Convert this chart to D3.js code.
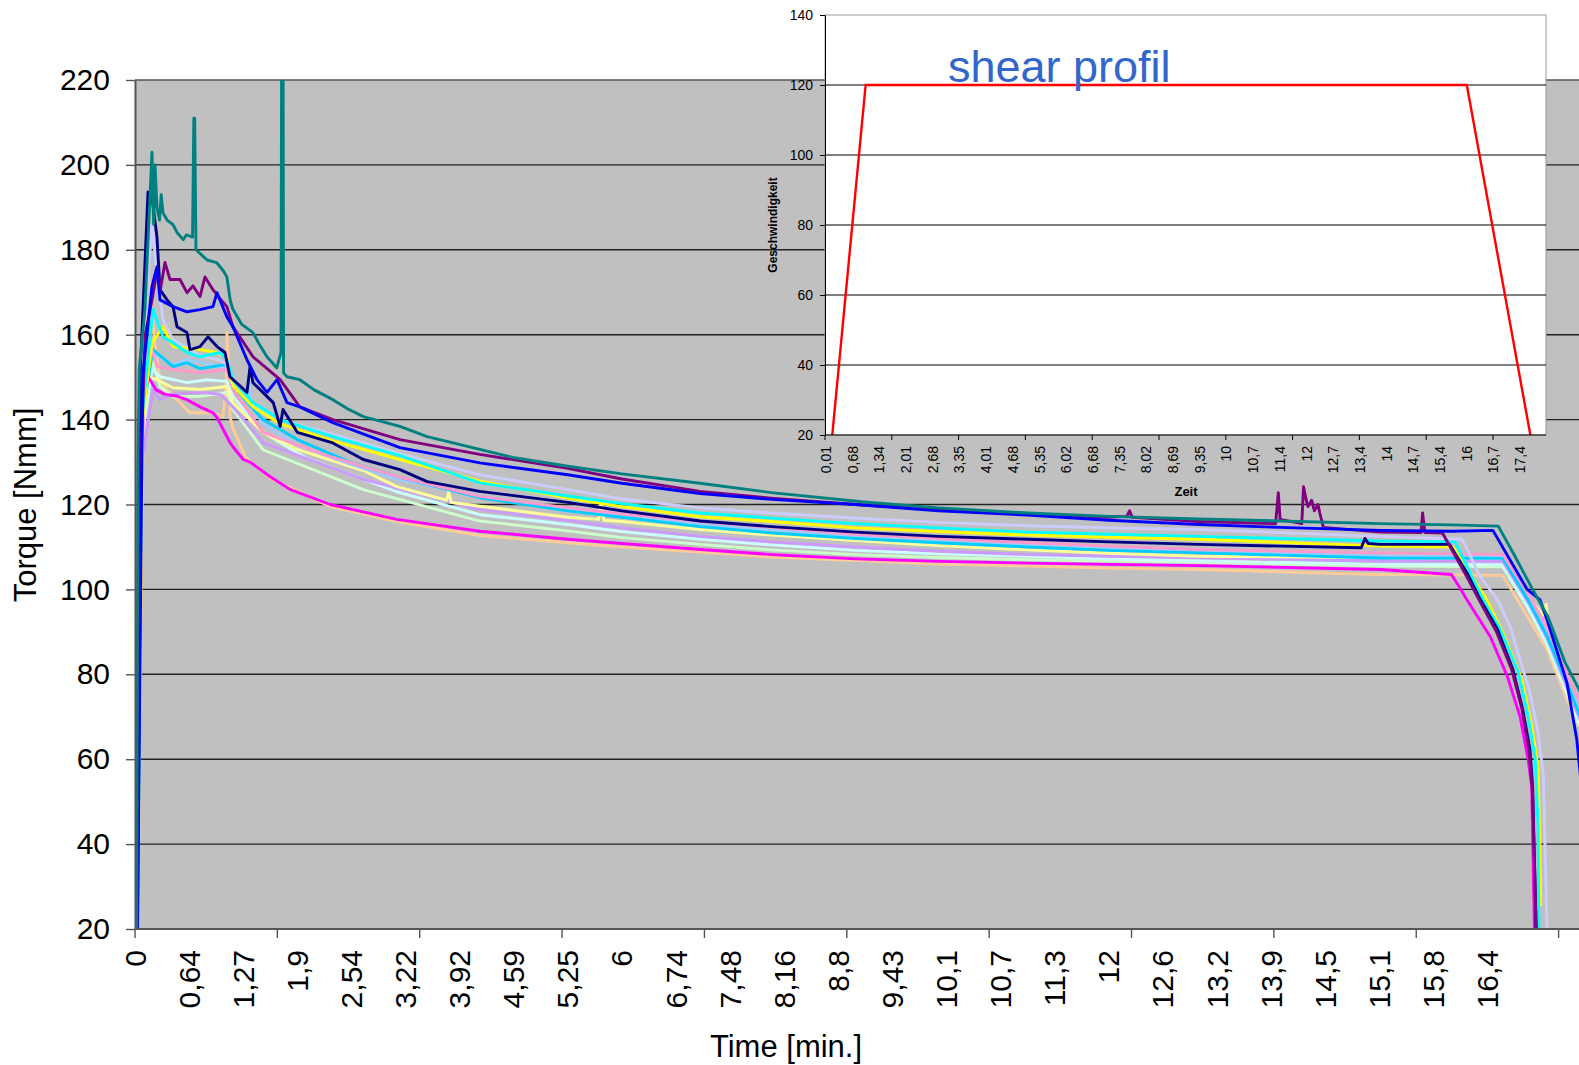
<!DOCTYPE html>
<html>
<head>
<meta charset="utf-8">
<title>Torque</title>
<script src="https://cdn.jsdelivr.net/npm/d3@7"></script>
<style>
body { margin:0; background:#fff; }
text { font-family: "Liberation Sans", Arial, sans-serif; }
</style>
</head>
<body>
<svg id="chart" width="1579" height="1065"></svg>
<script>
// ---- main chart data ----
var timeLabels = ["0","0,64","1,27","1,9","2,54","3,22","3,92","4,59","5,25","6","6,74","7,48","8,16",
  "8,8","9,43","10,1","10,7","11,3","12","12,6","13,2","13,9","14,5","15,1","15,8","16,4"];
var torqueTicks = [20,40,60,80,100,120,140,160,180,200,220];

var tealData = [[0.02,20],[0.035,130],[0.05,152],[0.09,160],[0.118,166],[0.16,185],[0.201,203],[0.22,186],[0.237,200],[0.26,190],[0.29,187],[0.31,193],[0.331,188.7],[0.38,187],[0.45,185.9],[0.5,184],[0.57,182.4],[0.61,183.5],[0.68,183],[0.695,211],[0.705,211],[0.72,180],[0.85,177.6],[0.96,177],[1.04,175],[1.08,173.6],[1.12,168],[1.15,166],[1.25,162.5],[1.384,160.5],[1.45,158],[1.547,154.8],[1.66,152.2],[1.71,155.8],[1.718,235],[1.734,235],[1.74,151],[1.78,150.1],[1.93,149.4],[2.1,147],[2.32,144.7],[2.5,142.5],[2.69,140.7],[3.15,138.4],[3.5,136],[4.17,133],[4.6,131],[5.25,129],[6,127.2],[7.07,125],[8,122.8],[9.1,120.6],[10,119.2],[11,118],[12,117.2],[13,116.6],[14.2,116],[15.11,115.5],[16,115.2],[16.52,114.9],[16.7,108],[16.9,100],[17.07,93.6],[17.26,82.8],[17.45,75]];
var purpleData = [[0.03,20],[0.07,130],[0.12,160],[0.2,168],[0.26,175],[0.3,170.6],[0.355,177],[0.414,173],[0.532,173],[0.615,169.9],[0.685,171.5],[0.767,169],[0.825,173.6],[0.918,170.6],[1.0,168.5],[1.08,166.6],[1.15,161.9],[1.384,154.8],[1.7,149.4],[1.93,143],[2.32,140],[3.15,135.3],[4.17,131.8],[5.25,128.5],[6,126],[7.07,123.1],[8,121.5],[9,120],[10,118.8],[11,117.8],[12,117],[12.2,117.2],[12.23,118.5],[12.26,117],[13,116],[13.95,115.5],[13.98,122.8],[14.0,116.5],[14.24,115.5],[14.26,124.2],[14.29,121],[14.31,119.5],[14.35,121],[14.38,118.5],[14.42,120],[14.44,118],[14.48,114.6],[15.11,113.5],[15.64,113.4],[15.66,118],[15.69,113.4],[15.9,113.3],[16.0,109.5],[16.17,103],[16.32,97],[16.5,90],[16.67,81],[16.78,72],[16.86,62],[16.9,52],[16.94,20]];
var blueData = [[0.03,20],[0.09,150],[0.2,171.3],[0.26,176],[0.296,168.2],[0.45,166.6],[0.615,165.4],[0.767,165.9],[0.918,166.6],[0.965,169.9],[1.08,164.2],[1.15,161.9],[1.314,154.1],[1.43,149.4],[1.547,146.4],[1.664,149.4],[1.78,144],[1.93,143],[2.32,139.3],[3.15,133.4],[4.17,129.8],[5.25,127],[6,125],[7.07,122.6],[8,121.2],[9,120],[10,118.5],[11,117.5],[12,116.3],[13,115.3],[14,114.6],[15.11,113.9],[16,113.7],[16.46,113.9],[16.84,100],[16.98,97.6],[17.06,92.9],[17.28,78.1],[17.39,64.7],[17.45,52]];
var navyData = [[0.02,20],[0.06,150],[0.154,193.6],[0.2,192.5],[0.26,183],[0.296,170.6],[0.379,168.2],[0.45,166.6],[0.497,161.9],[0.615,160.5],[0.65,156.5],[0.767,157.2],[0.86,159.5],[0.965,157.2],[1.058,155.8],[1.116,150.1],[1.314,146.4],[1.35,152.5],[1.384,148.7],[1.62,144],[1.7,138.4],[1.734,142.4],[1.9,137],[2.32,134.5],[2.69,130.6],[3.15,128.2],[3.5,125.4],[4.17,123.1],[5.25,120.5],[6,118.5],[7.07,116.1],[8,114.8],[9,113.5],[10,112.5],[11,111.8],[12,111.2],[13,110.6],[14.9,109.8],[14.94,112],[14.98,110.8],[15.11,110.6],[15.98,110.6],[16.17,104],[16.32,97.6],[16.51,90.6],[16.68,81.2],[16.79,71.8],[16.87,62.4],[16.9,53.6],[16.94,20]];
var cyanData = [[0.03,20],[0.08,140],[0.213,166],[0.331,159.5],[0.45,158.1],[0.615,155.8],[0.767,154.8],[1.0,155.8],[1.08,154.1],[1.15,149.4],[1.384,144],[1.7,140],[2.32,136],[3.15,131.5],[4.17,125.1],[5.25,122],[6,120.2],[7.07,118],[8,116.8],[9,115.5],[10,114.5],[11,113.5],[12,113],[13,112.5],[15.11,111.4],[16.04,111.2],[16.35,97.6],[16.54,90.6],[16.74,80.6],[16.85,70.2],[16.93,60],[16.96,45],[16.97,20]];
var yellowData = [[0.03,20],[0.09,140],[0.2,158],[0.331,161.9],[0.45,157.2],[0.767,156.5],[0.965,155.8],[1.08,154.5],[1.15,148],[1.384,143],[1.7,139],[2.32,135],[3.15,130.6],[4.17,125.5],[5.25,121.5],[6,119.5],[7.07,117.1],[8,116],[9,114.5],[10,113.6],[11,112.8],[12,112.3],[13,111.8],[15.11,110.2],[16.02,110],[16.39,97.6],[16.57,89.8],[16.78,78.8],[16.89,67.8],[16.96,58.4],[16.98,40],[16.99,25.4]];
var periwinkleData = [[0.02,20],[0.07,150],[0.201,186],[0.26,174.6],[0.331,163.5],[0.45,158.8],[0.615,157],[0.767,155],[1.0,154],[1.08,153],[1.15,148],[1.384,143.5],[1.7,140],[2.32,136.5],[3.15,132],[4.17,127],[5.25,123.5],[6,121.3],[7.07,119.2],[8,118],[9,116.8],[10,115.8],[11,115],[12,114.5],[13,114.1],[15.11,112.5],[16.12,111.8],[16.32,103],[16.51,97.6],[16.65,91.3],[16.76,83.5],[16.87,75.8],[16.96,66.4],[17.02,56],[17.06,20]];
var skyBlueData = [[0.03,20],[0.08,140],[0.213,156.5],[0.45,152.5],[0.615,153.4],[0.767,152],[1.08,153],[1.15,147.8],[1.5,140],[1.9,135.3],[2.52,130],[3.11,126.6],[4.17,121.6],[5.25,118.5],[6,117],[7.07,114.8],[8,113.3],[9,112],[10,111],[11,110],[12,109.2],[13,108.6],[15.11,107.4],[16.57,107.3],[16.85,97.5],[17.06,89],[17.26,79],[17.45,69]];
var paleBlueData = [[0.03,20],[0.08,140],[0.19,155.8],[0.45,153],[0.615,154.1],[0.9,153],[1.08,152],[1.15,147],[1.32,146],[1.33,151],[1.35,144],[1.5,139],[1.9,134],[2.52,129.5],[3.11,126],[4.17,122],[5.25,119],[6,117.5],[7.07,115.3],[8,114],[9,112.5],[10,111.3],[11,110.5],[12,109.8],[13,109.2],[15.11,107.8],[16.57,107.8],[16.85,98],[17.06,90],[17.26,80],[17.45,71]];
var roseData = [[0.02,20],[0.07,140],[0.154,159.5],[0.26,152.5],[0.45,151.8],[0.767,151.1],[1.08,151.8],[1.15,147.1],[1.5,137],[2.29,131.3],[3.11,126.6],[4.17,121.9],[5.25,119.2],[6,117.8],[7.07,116],[8,114.6],[9,113],[10,112],[11,111],[12,110.2],[13,109.4],[15.11,108.6],[16.57,108.2],[16.85,99],[17.06,91],[17.26,81],[17.45,72]];
var lightCyanData = [[0.03,20],[0.08,135],[0.201,152],[0.296,150.1],[0.615,148.7],[0.848,149.4],[1.08,149],[1.15,145.4],[1.5,137],[2.0,131],[3.11,123],[4.17,117.6],[5.25,115.3],[6,113.6],[7.07,111.8],[8,110.5],[9,109.2],[10,108.4],[11,107.8],[12,107.2],[13,106.7],[15.11,105.9],[16.57,105.8],[16.85,96],[17.06,87.5],[17.26,77],[17.45,67]];
var lightYellowData = [[0.03,20],[0.08,135],[0.154,150],[0.26,149.4],[0.45,147.5],[0.767,147.1],[1.08,147.8],[1.15,144],[1.5,137],[1.9,133],[2.69,128],[3.11,124.2],[3.75,121],[3.78,123],[3.81,120.5],[4.17,119.6],[5.25,117],[5.68,116.5],[5.71,120.8],[5.75,116.3],[6,116],[7.07,114.1],[8,112.8],[9,111.5],[10,110.3],[11,109.3],[12,108.5],[13,107.8],[15.11,107.5],[16.57,107.4],[16.85,98],[17.02,94],[17.05,96.5],[17.1,89],[17.26,80],[17.45,70.5]];
var lavenderData = [[0.03,20],[0.08,130],[0.213,147],[0.296,144.7],[0.45,146],[0.767,146.4],[1.0,146],[1.15,143],[1.5,134.6],[2.69,125.9],[4.17,118.8],[5.25,116.2],[6,114.5],[7.07,112.5],[8,111.2],[9,110],[10,109],[11,108.2],[12,107.8],[13,107.5],[15.11,106.7],[16.57,106.6],[16.85,97],[17.06,88.5],[17.26,78],[17.45,68]];
var lightGreenData = [[0.03,20],[0.08,140],[0.201,154],[0.296,147.8],[0.45,145.4],[0.767,145.5],[1.08,146.4],[1.15,142.4],[1.5,132.9],[2.69,123.5],[4.17,116.1],[5.25,113.8],[6,112.2],[7.07,110.6],[8,109.3],[9,108.2],[10,107.5],[11,107],[12,106.7],[13,106.4],[15.11,105.5],[16.57,105.3],[16.85,95.5],[17.06,87],[17.26,76.5],[17.45,66.5]];
var magentaData = [[0.02,20],[0.05,100],[0.1,145],[0.16,150],[0.25,147],[0.35,146],[0.5,145.5],[0.615,144.7],[0.767,143],[0.918,141.6],[0.965,140.5],[1.116,134.6],[1.15,133.6],[1.27,130.6],[1.35,130],[1.58,126.6],[1.82,123.5],[2.29,120],[3.11,116.5],[4.17,113.7],[5.25,111.8],[6,110.8],[7.07,109.4],[8,108.2],[9,107.2],[10,106.6],[11,106.2],[12,105.9],[13,105.6],[15.11,104.7],[16.0,103.5],[16.09,100.5],[16.17,97.6],[16.43,88.9],[16.62,79.5],[16.76,70.1],[16.85,60],[16.89,53.6],[16.92,20]];
var tanData = [[0.02,20],[0.04,60],[0.1,140],[0.142,175.8],[0.177,171.3],[0.237,157.2],[0.296,149.4],[0.379,147.1],[0.532,144],[0.65,141.6],[0.918,141.6],[1.035,140.7],[1.07,148],[1.08,160.5],[1.095,155],[1.116,140.7],[1.15,138],[1.3,131],[1.6,126],[2.29,119.5],[3.11,116],[4.17,112.7],[5.25,111],[6,110],[7.07,108.8],[8,107.6],[9,106.8],[10,106],[11,105.5],[12,105],[13,104.7],[15.11,103.5],[16.57,103.3],[16.73,97.6],[17.06,85.9],[17.28,74.1],[17.41,67.8]];

// ---- inset (shear profile) data ----
var profileLabels = ["0,01","0,68","1,34","2,01","2,68","3,35","4,01","4,68","5,35","6,02","6,68","7,35","8,02",
  "8,69","9,35","10","10,7","11,4","12","12,7","13,4","14","14,7","15,4","16","16,7","17,4"];
var speedTicks = [20,40,60,80,100,120,140];
var profileData = [[0,0],[1,120],[16,120],[18,0]];

var seriesList = [
  {color:"#FFCC99", data:tanData},
  {color:"#CCFFCC", data:lightGreenData},
  {color:"#CCFFFF", data:lightCyanData},
  {color:"#CC99FF", data:lavenderData},
  {color:"#FFFF99", data:lightYellowData},
  {color:"#99CCFF", data:paleBlueData},
  {color:"#00CCFF", data:skyBlueData},
  {color:"#FF99CC", data:roseData},
  {color:"#FF00FF", data:magentaData},
  {color:"#CCCCFF", data:periwinkleData},
  {color:"#FFFF00", data:yellowData},
  {color:"#00FFFF", data:cyanData},
  {color:"#000080", data:navyData},
  {color:"#800080", data:purpleData},
  {color:"#0000FF", data:blueData},
  {color:"#008080", data:tealData}
];

var svg = d3.select("#chart");
var num = function(s) { return +s.replace(",", "."); };

// main plot area
var pl = 135, pr = 1600, pt = 80, pb = 929;
var labelStep = 54.1, tickStep = 142.36;

var xi = d3.scaleLinear().domain([0, timeLabels.length - 1]).range([pl, pl + (timeLabels.length - 1) * labelStep]);
var x = d3.scaleLinear().domain(timeLabels.map(num)).range(timeLabels.map(function(d, i) { return xi(i); }));
var y = d3.scaleLinear().domain([20, 220]).range([pb, pt]);

svg.append("rect").attr("x", pl).attr("y", pt).attr("width", pr - pl).attr("height", pb - pt).attr("fill", "#C0C0C0");

svg.append("g").selectAll("line").data(torqueTicks).enter().append("line")
  .attr("x1", pl).attr("x2", pr)
  .attr("y1", function(d) { return y(d); }).attr("y2", function(d) { return y(d); })
  .attr("stroke", function(d) { return d == 220 ? "#555" : "#222"; })
  .attr("stroke-width", 1.4);

svg.append("clipPath").attr("id", "mainClip").append("rect")
  .attr("x", pl).attr("y", pt).attr("width", pr - pl).attr("height", pb - pt);

var line = d3.line().x(function(d) { return x(d[0]); }).y(function(d) { return y(d[1]); });
svg.append("g").attr("clip-path", "url(#mainClip)")
  .selectAll("path").data(seriesList).enter().append("path")
  .attr("d", function(s) { return line(s.data); })
  .attr("fill", "none")
  .attr("stroke", function(s) { return s.color; })
  .attr("stroke-width", 2.9)
  .attr("stroke-linejoin", "round");

// y axis
var yAxis = svg.append("g").attr("transform", "translate(" + pl + ",0)")
  .call(d3.axisLeft(y).tickValues(torqueTicks).tickSize(9).tickSizeOuter(0).tickPadding(16));
yAxis.select(".domain").attr("stroke", "#555").attr("stroke-width", 2);
yAxis.selectAll(".tick line").attr("stroke", "#555").attr("stroke-width", 1.4);
yAxis.selectAll("text").attr("font-size", 30).attr("fill", "#000")
  .style("font-family", "'Liberation Sans', Arial, sans-serif");

// x axis
svg.append("line").attr("x1", pl).attr("x2", pr).attr("y1", pb).attr("y2", pb)
  .attr("stroke", "#555").attr("stroke-width", 2);
var tickIdx = d3.range(0, (pr - pl) / tickStep);
svg.append("g").selectAll("line").data(tickIdx).enter().append("line")
  .attr("x1", function(j) { return pl + j * tickStep; }).attr("x2", function(j) { return pl + j * tickStep; })
  .attr("y1", pb).attr("y2", pb + 9).attr("stroke", "#555").attr("stroke-width", 1.4);
svg.append("g").selectAll("text").data(timeLabels).enter().append("text")
  .attr("transform", function(d, i) { return "translate(" + xi(i) + ",950) rotate(-90)"; })
  .attr("text-anchor", "end").attr("dy", "0.35em")
  .attr("font-size", 30).text(function(d) { return d; });

svg.append("text").attr("x", 786).attr("y", 1057).attr("text-anchor", "middle")
  .attr("font-size", 31).text("Time [min.]");
svg.append("text").attr("transform", "translate(36,505) rotate(-90)").attr("text-anchor", "middle")
  .attr("font-size", 31).text("Torque [Nmm]");

// ---- inset chart ----
var il = 825, ir = 1546, it = 15, ib = 435, inStep = 26.7, inTickStep = 66.8;
var xii = d3.scaleLinear().domain([0, profileLabels.length - 1]).range([826, 826 + (profileLabels.length - 1) * inStep]);
var xIn = d3.scaleLinear().domain(profileLabels.map(num)).range(profileLabels.map(function(d, i) { return xii(i); }));
var yIn = d3.scaleLinear().domain([20, 140]).range([ib, it]);

svg.append("rect").attr("x", il).attr("y", it).attr("width", ir - il).attr("height", ib - it)
  .attr("fill", "#fff").attr("stroke", "#999").attr("stroke-width", 1);
svg.append("g").selectAll("line").data(speedTicks.filter(function(d) { return d > 20 && d < 140; }))
  .enter().append("line")
  .attr("x1", il).attr("x2", ir)
  .attr("y1", function(d) { return yIn(d); }).attr("y2", function(d) { return yIn(d); })
  .attr("stroke", "#000").attr("stroke-width", 1);

svg.append("clipPath").attr("id", "inClip").append("rect")
  .attr("x", il).attr("y", it).attr("width", ir - il).attr("height", ib - it);
svg.append("path").attr("clip-path", "url(#inClip)")
  .attr("d", d3.line().x(function(d) { return xIn(d[0]); }).y(function(d) { return yIn(d[1]); })(profileData))
  .attr("fill", "none").attr("stroke", "#FF0000").attr("stroke-width", 2.4);

var yAxisIn = svg.append("g").attr("transform", "translate(" + il + ",0)")
  .call(d3.axisLeft(yIn).tickValues(speedTicks).tickSize(5).tickSizeOuter(0).tickPadding(7));
yAxisIn.select(".domain").attr("stroke", "#000");
yAxisIn.selectAll("text").attr("font-size", 14).attr("fill", "#000")
  .style("font-family", "'Liberation Sans', Arial, sans-serif");

svg.append("line").attr("x1", il).attr("x2", ir).attr("y1", ib).attr("y2", ib).attr("stroke", "#000");
svg.append("g").selectAll("line").data(d3.range(0, (ir - il) / inTickStep)).enter().append("line")
  .attr("x1", function(j) { return il + j * inTickStep; }).attr("x2", function(j) { return il + j * inTickStep; })
  .attr("y1", ib).attr("y2", ib + 5).attr("stroke", "#000");
svg.append("g").selectAll("text").data(profileLabels).enter().append("text")
  .attr("transform", function(d, i) { return "translate(" + xii(i) + ",446) rotate(-90)"; })
  .attr("text-anchor", "end").attr("dy", "0.35em")
  .attr("font-size", 14).text(function(d) { return d; });

svg.append("text").attr("x", 1186).attr("y", 496).attr("text-anchor", "middle")
  .attr("font-size", 13).attr("font-weight", "bold").text("Zeit");
svg.append("text").attr("transform", "translate(777,225) rotate(-90)").attr("text-anchor", "middle")
  .attr("font-size", 12).attr("font-weight", "bold").text("Geschwindigkeit");

svg.append("text").attr("x", 948).attr("y", 82).attr("font-size", 45).attr("fill", "#3366CC")
  .text("shear profil");
</script>
</body>
</html>
